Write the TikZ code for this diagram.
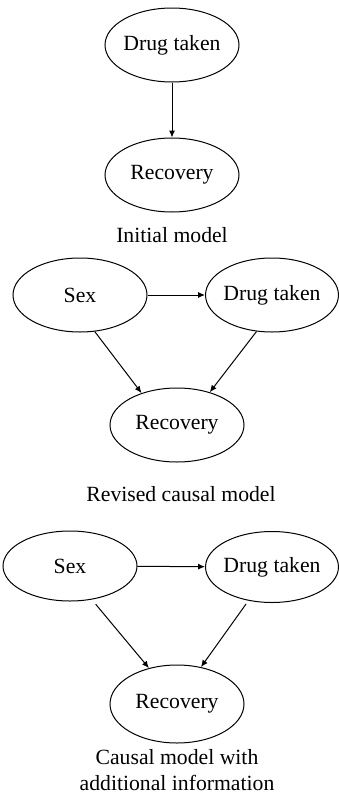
\documentclass[tikz,border=0pt]{standalone}
\usepackage{fontspec}
\setmainfont{Liberation Serif}
\usetikzlibrary{arrows.meta,shapes.geometric}

\begin{document}
\begin{tikzpicture}[x=1pt,y=-1pt,
  var/.style={draw,ellipse,line width=1pt,minimum width=134pt,minimum height=74pt,inner sep=-1.5pt,font=\fontsize{21.7}{26}\selectfont},
  caption/.style={font=\fontsize{21.7}{26}\selectfont,align=center},
  arr/.style={-{Latex[length=7pt,width=6pt]},line width=1pt}]
\useasboundingbox (0,0) rectangle (338,795);
\node[var] (drug1) at (172,45) {Drug taken};
\node[var] (rec1) at (172,175) {Recovery};
\node[caption] (cap1) at (172,235) {Initial model};
\draw[arr] (drug1) -- (rec1);
\node[var] (sex2) at (80,295) {Sex};
\node[var,minimum width=132pt] (drug2) at (272,295) {Drug taken};
\node[var] (rec2) at (177,425) {Recovery};
\node[caption] (cap2) at (181,494) {Revised causal model};
\draw[arr] (sex2) -- (drug2);
\draw[arr] (sex2.-68) -- (rec2.138);
\draw[arr] (drug2.-113) -- (rec2.45);
\node[var,minimum height=70pt] (sex3) at (70,566) {Sex};
\node[var,minimum width=132pt,minimum height=71pt] (drug3) at (272,567) {Drug taken};
\node[var,minimum height=78pt] (rec3) at (177,704) {Recovery};
\node[caption] (cap3) at (177,770) {Causal model with\\additional information};
\draw[arr] (sex3) -- (drug3);
\draw[arr,shorten <=6pt] (sex3.-57) -- (rec3.128);
\draw[arr,shorten <=4pt] (drug3.-125) -- (rec3.57);
\end{tikzpicture}
\end{document}
